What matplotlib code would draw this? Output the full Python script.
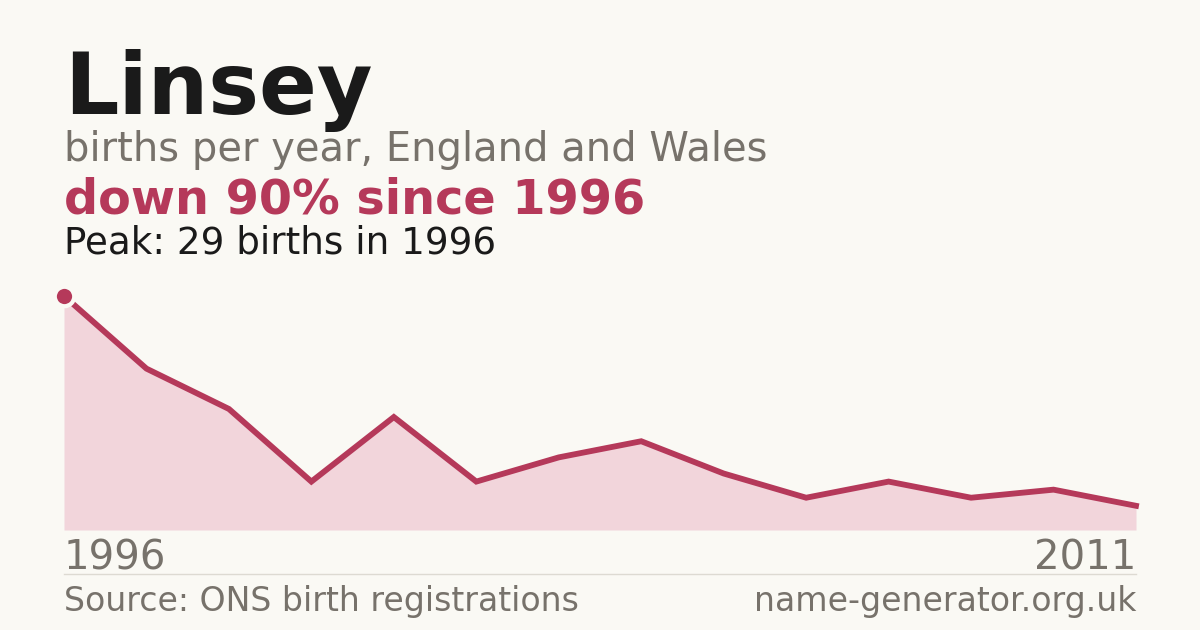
import numpy as np
import matplotlib
matplotlib.use("Agg")
import matplotlib.pyplot as plt

name = "Linsey"
first_year, last_year = 1996, 2011
births = [29, 20, 15, 6, 14, 6, 9, 11, 7, 4, 6, 4, 5, 3]

bg = "#faf9f4"
accent = "#b5395a"
fill = "#f2d5db"
grey = "#77726b"

fig = plt.figure(figsize=(12, 6.3), dpi=100, facecolor=bg)

def px(x, y):
    return x / 1200, 1 - y / 630

# header text
fig.text(*px(64, 114), name, fontsize=61.5, fontweight="bold", color="#1a1a1a", va="baseline")
fig.text(*px(64, 161), "births per year, England and Wales", fontsize=28.8, color=grey, va="baseline")
peak = max(births)
drop = round((1 - births[-1] / births[0]) * 100)
fig.text(*px(64, 214), f"down {drop}% since {first_year}", fontsize=34.4, fontweight="bold", color=accent, va="baseline")
fig.text(*px(64, 254), f"Peak: {peak} births in {first_year + births.index(peak)}", fontsize=26.8, color="#1a1a1a", va="baseline")

# chart area
ax = fig.add_axes([64 / 1200, 1 - 530 / 630, 1072 / 1200, (530 - 296) / 630])
ax.set_facecolor(bg)
x = np.arange(len(births))
ax.fill_between(x, births, 0, color=fill, lw=0)
ax.plot(x, births, color=accent, lw=4.2, solid_joinstyle="miter", clip_on=False)
i = births.index(peak)
ax.plot(x[i], births[i], "o", ms=14, color=accent, mec=bg, mew=3, clip_on=False, zorder=5)
ax.set_xlim(0, len(births) - 1)
ax.set_ylim(0, peak)
ax.axis("off")

# footer
fig.text(*px(64, 570), str(first_year), fontsize=28.9, color=grey, va="baseline")
fig.text(*px(1136, 570), str(last_year), fontsize=28.9, color=grey, va="baseline", ha="right")
fig.add_artist(plt.Line2D([64 / 1200, 1136 / 1200], [1 - 574 / 630] * 2, color="#dddad2", lw=1))
fig.text(*px(64, 611), "Source: ONS birth registrations", fontsize=23.9, color=grey, va="baseline")
fig.text(*px(1136, 611), "name-generator.org.uk", fontsize=23.9, color=grey, va="baseline", ha="right")

fig.savefig("out.png", dpi=100, facecolor=bg)
